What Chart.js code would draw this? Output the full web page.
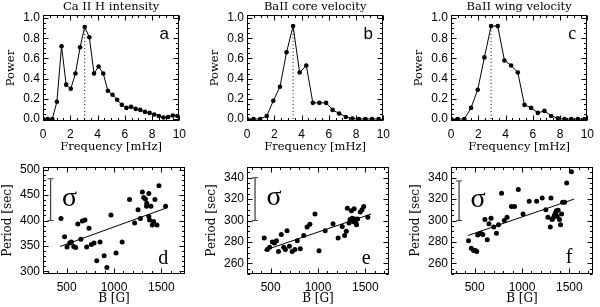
<!DOCTYPE html>
<html>
<head>
<meta charset="utf-8">
<script src="https://cdn.jsdelivr.net/npm/chart.js@4.4.1/dist/chart.umd.min.js"></script>
<style>
  html, body { margin: 0; padding: 0; background: #fff; }
  #wrap { position: relative; width: 600px; height: 307px; overflow: hidden; }
  #wrap canvas { position: absolute; }
</style>
</head>
<body>
<div id="wrap">
  <canvas id="pa" width="192" height="155" style="left:0;top:0"></canvas>
  <canvas id="pb" width="192" height="155" style="left:204px;top:0"></canvas>
  <canvas id="pc" width="192" height="155" style="left:408px;top:0"></canvas>
  <canvas id="pd" width="192" height="155" style="left:0;top:152px"></canvas>
  <canvas id="pe" width="192" height="155" style="left:204px;top:152px"></canvas>
  <canvas id="pf" width="192" height="155" style="left:408px;top:152px"></canvas>
</div>
<script>
// power spectra (top row)
const freqA = [0.00, 0.34, 0.68, 1.02, 1.36, 1.70, 2.04, 2.38, 2.72, 3.06, 3.40, 3.74, 4.08, 4.42, 4.76,
               5.10, 5.44, 5.78, 6.12, 6.46, 6.80, 7.14, 7.48, 7.82, 8.16, 8.50, 8.84, 9.18, 9.52, 9.86];
const powA  = [0.00, 0.00, 0.00, 0.17, 0.72, 0.34, 0.30, 0.45, 0.71, 0.91, 0.81, 0.45, 0.52, 0.45, 0.28,
               0.24, 0.19, 0.14, 0.11, 0.12, 0.10, 0.09, 0.07, 0.06, 0.045, 0.03, 0.015, 0.02, 0.035, 0.03];
const peakA = [3.06, 0.91];

const freqB = [0.00, 0.48, 0.97, 1.45, 1.93, 2.42, 2.90, 3.38, 3.86, 4.35, 4.83, 5.31, 5.80, 6.28, 6.76,
               7.25, 7.73, 8.21, 8.69, 9.18, 9.66];
const powB  = [0.00, 0.00, 0.00, 0.03, 0.18, 0.32, 0.66, 0.92, 0.46, 0.53, 0.16, 0.16, 0.16, 0.09, 0.055,
               0.02, 0.005, 0.00, 0.00, 0.00, 0.00];
const peakB = [3.38, 0.92];

const freqC = [0.00, 0.49, 0.98, 1.47, 1.96, 2.45, 2.94, 3.43, 3.92, 4.41, 4.90, 5.39, 5.88, 6.37, 6.86,
               7.35, 7.84, 8.33, 8.82, 9.31, 9.80];
const powC  = [0.00, 0.00, 0.00, 0.11, 0.29, 0.61, 0.92, 0.92, 0.58, 0.53, 0.46, 0.14, 0.11, 0.06, 0.08,
               0.03, 0.006, 0.00, 0.00, 0.00, 0.00];
const peakC = [2.94, 0.92];

// period vs field strength (bottom row)
const bD = [440, 478, 504, 532, 550, 575, 596, 618, 650, 665, 693, 711, 736, 761, 789, 818, 853, 896, 925, 968,
            1022, 1086, 1164, 1218, 1254, 1279, 1300, 1314, 1332, 1346, 1343, 1368, 1368, 1390, 1375, 1404,
            1418, 1432, 1454, 1475, 1545];
const pD = [404, 368, 348, 356, 358, 349, 347, 393, 363, 399, 401, 348, 385, 353, 356, 321, 358, 331, 308, 411,
            336, 358, 441, 395, 421, 404, 456, 445, 442, 434, 428, 453, 408, 428, 401, 391,
            398, 441, 391, 468, 428];
const fitD = { b: [430, 1560], p: [349, 425] };
const sigmaD = [330, 400, 482];

const bE = [432, 464, 489, 518, 540, 561, 583, 612, 637, 655, 673, 698, 727, 756, 781, 813, 849, 885, 914, 968,
            1011, 1076, 1159, 1213, 1256, 1281, 1299, 1310, 1328, 1339, 1353, 1360, 1371, 1382, 1389, 1400,
            1407, 1418, 1447, 1465, 1483, 1526];
const pE = [283.6, 273, 275, 280, 279, 281, 271, 287, 275, 273, 290.5, 276, 271, 273, 281, 273.5, 286, 294, 296.4, 306,
            271.7, 290.5, 297, 283.6, 294.5, 286, 290, 311.5, 297.7, 301, 309, 302, 299, 311, 301.4, 297.7,
            296, 301.4, 308, 310, 313, 303];
const fitE = { b: [430, 1560], p: [272, 306] };
const sigmaE = [335, 300, 340];

const bF = [435, 464, 489, 507, 522, 532, 561, 586, 608, 633, 651, 673, 702, 730, 752, 784, 813, 842, 889, 921,
            961, 1011, 1076, 1155, 1213, 1252, 1274, 1299, 1306, 1317, 1328, 1342, 1353, 1364, 1371, 1382,
            1396, 1407, 1418, 1429, 1450, 1472, 1522];
const pF = [281, 274, 272, 272, 271, 286.5, 288, 287, 301, 282, 297, 302, 294, 288, 296, 325.5, 300, 303, 313, 313,
            329, 306, 318, 318, 321, 310, 303, 294, 321, 301, 302, 305, 307, 309, 304, 309.5,
            301, 296, 306, 317, 317, 335, 345.6];
const fitF = { b: [430, 1550], p: [286, 320] };
const sigmaF = [335, 300, 337];

// axis ticks
const freqTicks = [0, 2, 4, 6, 8, 10];
const powTicks = [0.0, 0.2, 0.4, 0.6, 0.8, 1.0];
const bTicks = [500, 1000, 1500];
const periodTicksD = [300, 350, 400, 450, 500];
const periodTicksEF = [260, 280, 300, 320, 340];

const tickFont = { family: 'Liberation Sans', size: 12 };

function xy(xs, ys) { return xs.map((x, i) => ({ x: x, y: ys[i] })); }

// IDL-like box with inward ticks on all sides
const idlBox = {
  id: 'idlBox',
  afterDatasetsDraw(chart, args, o) {
    const { ctx, chartArea: a } = chart;
    ctx.save();
    ctx.strokeStyle = '#000';
    ctx.lineWidth = 1;
    const L = Math.round(a.left) + 0.5, T = Math.round(a.top) + 0.5;
    const R = Math.round(a.right) - 0.5, B = Math.round(a.bottom) - 0.5;
    ctx.strokeRect(L, T, R - L, B - T);
    const marks = (scale, majors, nMinor, horiz) => {
      const step = majors[1] - majors[0];
      const sub = step / nMinor;
      const i0 = Math.ceil((scale.min - majors[0]) / sub - 1e-6);
      const i1 = Math.floor((scale.max - majors[0]) / sub + 1e-6);
      ctx.beginPath();
      for (let i = i0; i <= i1; i++) {
        const v = majors[0] + i * sub;
        const len = (((i % nMinor) + nMinor) % nMinor === 0) ? 5 : 2.5;
        const p = Math.round(scale.getPixelForValue(v)) + 0.5;
        if (horiz) {
          ctx.moveTo(p, B); ctx.lineTo(p, B - len);
          ctx.moveTo(p, T); ctx.lineTo(p, T + len);
        } else {
          ctx.moveTo(L, p); ctx.lineTo(L + len, p);
          ctx.moveTo(R, p); ctx.lineTo(R - len, p);
        }
      }
      ctx.stroke();
    };
    marks(chart.scales.x, o.xTicks, o.xMinor, true);
    marks(chart.scales.y, o.yTicks, o.yMinor, false);
    ctx.restore();
  }
};

// panel title, panel letter and sigma symbol
const idlText = {
  id: 'idlText',
  afterDraw(chart, args, o) {
    const { ctx, chartArea: a, scales } = chart;
    ctx.save();
    ctx.fillStyle = '#000';
    ctx.textAlign = 'center';
    ctx.textBaseline = 'middle';
    if (o.title) {
      ctx.font = '11.5px "DejaVu Serif"';
      ctx.fillText(o.title, (a.left + a.right) / 2, a.top - 8);
    }
    if (o.letter) {
      ctx.font = o.letter.font;
      ctx.fillText(o.letter.text, scales.x.getPixelForValue(o.letter.x), scales.y.getPixelForValue(o.letter.y));
    }
    if (o.sigma) {
      ctx.font = '28px "Liberation Serif"';
      ctx.fillText('\u03c3', scales.x.getPixelForValue(o.sigma[0]), scales.y.getPixelForValue(o.sigma[1]));
    }
    ctx.restore();
  }
};

function axes(xr, xt, xTitle, yr, yt, yTitle, yFmt, xPad, yTitlePad, titleSize) {
  return {
    x: {
      type: 'linear', min: xr[0], max: xr[1],
      afterBuildTicks: s => { s.ticks = xt.map(v => ({ value: v })); },
      afterFit: s => { s.height = xPad; },
      grid: { display: false, drawTicks: false },
      border: { display: false },
      ticks: { font: tickFont, color: '#000', padding: 6, maxRotation: 0, autoSkip: false, callback: v => String(v) },
      title: { display: true, text: xTitle, font: { family: 'DejaVu Serif', size: titleSize }, color: '#000', padding: { top: 0, bottom: 1 } }
    },
    y: {
      type: 'linear', min: yr[0], max: yr[1],
      afterBuildTicks: s => { s.ticks = yt.map(v => ({ value: v })); },
      afterFit: s => { s.width = 43; },
      grid: { display: false, drawTicks: false },
      border: { display: false },
      ticks: { font: tickFont, color: '#000', padding: 3, autoSkip: false, callback: yFmt },
      title: { display: true, text: yTitle, font: { family: 'DejaVu Serif', size: titleSize }, color: '#000', padding: { top: yTitlePad, bottom: 0 } }
    }
  };
}

function spectrum(id, fx, fy, peak, title, letter) {
  return new Chart(document.getElementById(id), {
    type: 'scatter',
    data: {
      datasets: [
        { data: xy(fx, fy), showLine: true, borderColor: '#000', borderWidth: 1,
          pointRadius: 2.3, pointBackgroundColor: '#000', pointBorderWidth: 0 },
        { data: xy([peak[0], peak[0]], [0, peak[1]]), showLine: true, borderColor: '#000', borderWidth: 1,
          borderDash: [1, 2.5], pointRadius: 0 }
      ]
    },
    options: {
      responsive: false, animation: false, devicePixelRatio: 1,
      layout: { padding: { top: 15, right: 7, left: 0, bottom: 0 } },
      plugins: {
        legend: { display: false }, tooltip: { enabled: false },
        idlBox: { xTicks: freqTicks, xMinor: 4, yTicks: powTicks, yMinor: 4 },
        idlText: { title: title, letter: letter }
      },
      scales: axes([0, 10], freqTicks, 'Frequency [mHz]', [-0.02, 1.03], powTicks, 'Power',
                   v => v.toFixed(1), 34, 4, 11.5)
    },
    plugins: [idlBox, idlText]
  });
}

function scatterPanel(id, bx, py, fit, sigma, yr, yt, letter) {
  const nMinor = yt[1] - yt[0] === 50 ? 5 : 4;
  return new Chart(document.getElementById(id), {
    type: 'scatter',
    data: {
      datasets: [
        { data: xy(bx, py), pointRadius: 2.5, pointBackgroundColor: '#000', pointBorderWidth: 0 },
        { data: xy(fit.b, fit.p), showLine: true, borderColor: '#000', borderWidth: 1, pointRadius: 0 },
        { data: xy([sigma[0], sigma[0]], [sigma[1], sigma[2]]), showLine: true, borderColor: '#444',
          borderWidth: 1.3, pointStyle: 'line', pointRadius: 3, pointBorderColor: '#444', pointBorderWidth: 1 }
      ]
    },
    options: {
      responsive: false, animation: false, devicePixelRatio: 1,
      layout: { padding: { top: 15, right: 7, left: 0, bottom: 0 } },
      plugins: {
        legend: { display: false }, tooltip: { enabled: false },
        idlBox: { xTicks: bTicks, xMinor: 5, yTicks: yt, yMinor: nMinor },
        idlText: { letter: letter, sigma: [sigma[0] + 200, (sigma[1] + sigma[2]) / 2 + 1] }
      },
      scales: axes([250, 1750], bTicks, 'B [G]', yr, yt, 'Period [sec]', v => String(v), 33, 1, 12)
    },
    plugins: [idlBox, idlText]
  });
}

spectrum('pa', freqA, powA, peakA, 'Ca II H intensity', { text: 'a', x: 8.9, y: 0.84, font: '17px "Liberation Sans"' });
spectrum('pb', freqB, powB, peakB, 'BaII core velocity', { text: 'b', x: 8.9, y: 0.84, font: '17px "Liberation Sans"' });
spectrum('pc', freqC, powC, peakC, 'BaII wing velocity', { text: 'c', x: 8.9, y: 0.84, font: '18px "Liberation Serif"' });

scatterPanel('pd', bD, pD, fitD, sigmaD, [295, 505], periodTicksD, { text: 'd', x: 1520, y: 325, font: '20px "Liberation Serif"' });
scatterPanel('pe', bE, pE, fitE, sigmaE, [250, 350], periodTicksEF, { text: 'e', x: 1508, y: 264, font: '20px "Liberation Serif"' });
scatterPanel('pf', bF, pF, fitF, sigmaF, [250, 350], periodTicksEF, { text: 'f', x: 1497, y: 265, font: '20px "Liberation Serif"' });
</script>
</body>
</html>
